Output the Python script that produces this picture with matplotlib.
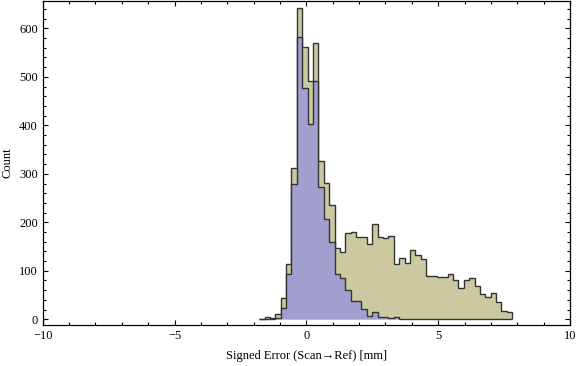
import numpy as np
import matplotlib.pyplot as plt
from matplotlib.ticker import MultipleLocator

# bin edges (47 bins)
edges = np.linspace(-1.79, 7.81, 48)

# all points (beige)
counts_all = [1, 4, 2, 11, 43, 113, 313, 643, 561, 491,
              569, 327, 282, 236, 146, 138, 177, 181, 170, 170,
              155, 196, 170, 168, 171, 113, 127, 117, 142, 132,
              124, 89, 89, 87, 87, 93, 82, 64, 80, 85,
              68, 52, 45, 54, 35, 17, 14]

# subset (blue)
counts_sub = [0, 1, 1, 2, 23, 93, 280, 583, 478, 402,
              491, 272, 206, 159, 93, 86, 60, 37, 37, 21,
              6, 16, 4, 4, 3, 4, 0, 0, 0, 0,
              0, 0, 0, 0, 0, 0, 0, 0, 0, 0,
              0, 0, 0, 0, 0, 0, 0]

plt.rcParams['font.family'] = ['Liberation Serif', 'DejaVu Serif']
plt.rcParams['font.size'] = 9

fig = plt.figure(figsize=(5.76, 3.66), dpi=100)
ax = fig.add_axes([0.0741, 0.112, 0.9155, 0.886])

edge_col = '#333333'
ax.stairs(counts_all, edges, fill=True, facecolor='#CCC9A1',
          edgecolor=edge_col, linewidth=1.0)
ax.stairs(counts_sub, edges, fill=True, facecolor='#A09FCD',
          edgecolor=edge_col, linewidth=1.0)

ax.set_xlim(-10, 10)
ax.set_ylim(-11.8, 657)

ax.xaxis.set_major_locator(MultipleLocator(5))
ax.xaxis.set_minor_locator(MultipleLocator(1))
ax.yaxis.set_major_locator(MultipleLocator(100))
ax.yaxis.set_minor_locator(MultipleLocator(20))
ax.tick_params(which='both', direction='in', top=True, right=True, width=0.8)
ax.tick_params(which='major', length=3.6)
ax.tick_params(which='minor', length=2.0)
ax.tick_params(axis='x', pad=3.5)
ax.tick_params(axis='y', pad=3.5)

for s in ax.spines.values():
    s.set_linewidth(0.9)

ax.set_xticks([-10, -5, 0, 5, 10])
ax.set_xticklabels(['\u221210', '\u22125', '0', '5', '10'])

ax.set_xlabel('Signed Error (Scan\u2192Ref) [mm]')
ax.xaxis.set_label_coords(0.5, -0.078)
ax.set_ylabel('Count')
ax.yaxis.set_label_coords(-0.056, 0.5)

fig.savefig('out.png', dpi=100)
